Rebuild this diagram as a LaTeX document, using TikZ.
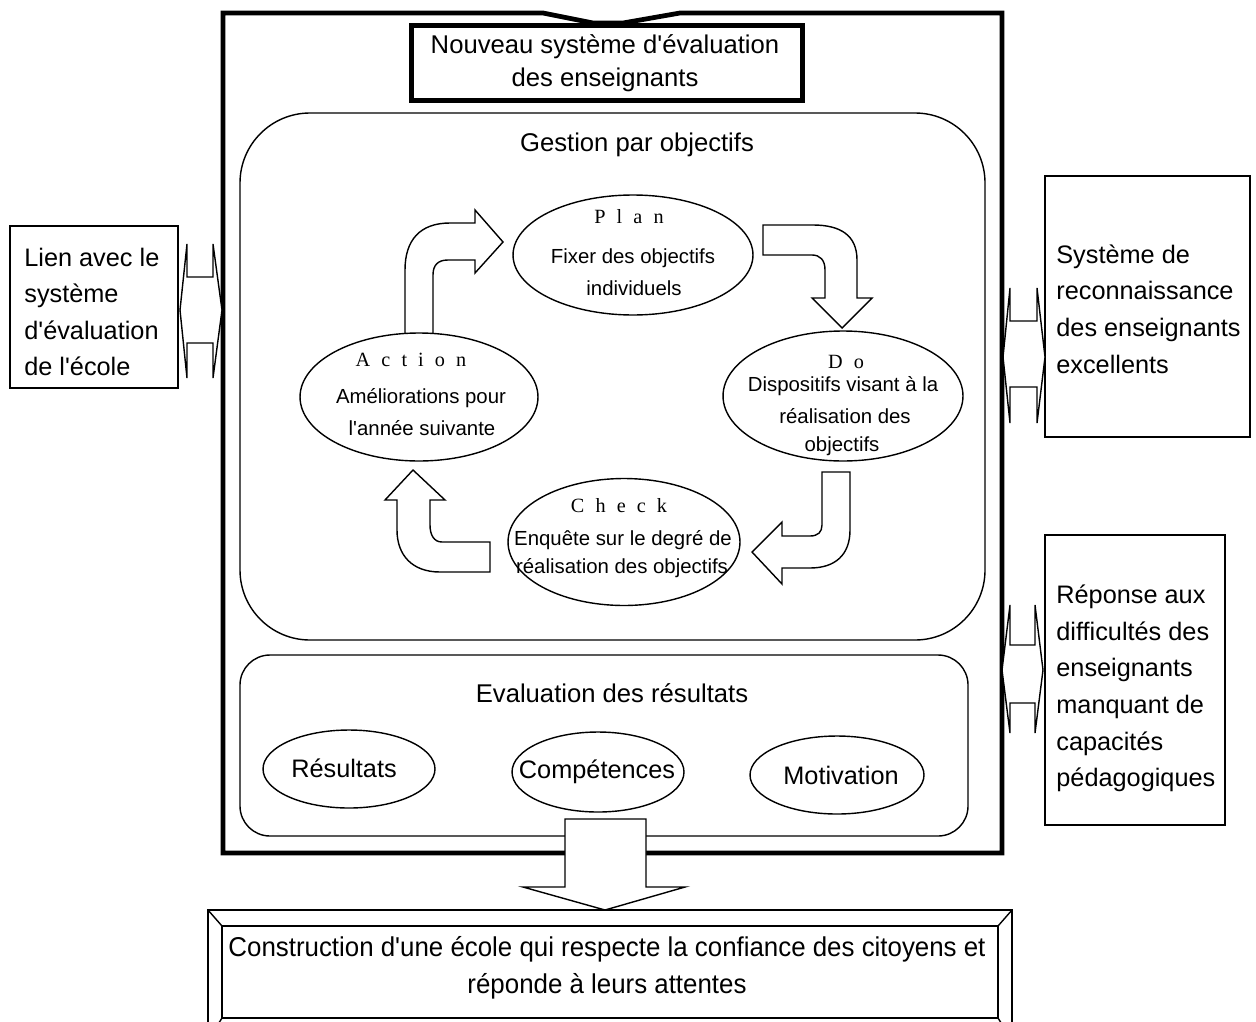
\documentclass[tikz,border=0pt]{standalone}
\usepackage{fontspec}
\setmainfont{Liberation Sans}
\newfontfamily\mainsans{Liberation Sans}
\newfontfamily\spacedfont[LetterSpace=55]{Liberation Serif}
\newfontfamily\narrowfont[FakeStretch=0.95]{Liberation Sans}
\usetikzlibrary{shapes.geometric}
\tikzset{
  frameline/.style={line width=2.7pt},
  thinline/.style={line width=0.8pt},
  ell/.style={draw, ellipse, line width=0.8pt, fill=white, inner sep=0pt},
  blockarrow/.style={draw, line width=0.8pt, fill=white, line join=miter},
  big/.style={font=\mainsans\fontsize{14.4}{20.8}\selectfont},
  small/.style={font=\mainsans\fontsize{11.6}{17}\selectfont},
  spaced/.style={font=\spacedfont\fontsize{11.5}{14}\selectfont},
  txt/.style={inner sep=0pt},
}
\begin{document}
\mainsans
\begin{tikzpicture}[x=0.02cm, y=-0.02cm]
\useasboundingbox (0,0) rectangle (1256,1021);
\clip (0,0) rectangle (1256,1021);
\fill[white] (0,0) rectangle (1256,1021);

% outer frame
\draw[frameline, line join=miter] (223,13) -- (543,13) -- (593,23) -- (623,23) -- (680,13) -- (1002,13) -- (1002,853) -- (223,853) -- cycle;

% title box
\node[draw, line width=2.7pt, fill=white, minimum width=7.83cm, minimum height=1.49cm, inner sep=0pt] (title) at (607,63) {};
\node[txt, align=center, font=\mainsans\fontsize{14.6}{18.7}\selectfont] (titletxt) at (605,63) {Nouveau système d'évaluation\\des enseignants};

% Gestion par objectifs box
\draw[thinline, rounded corners=1.4cm] (240,113) rectangle (985,640);
\node[txt, font=\mainsans\fontsize{14.6}{18}\selectfont] (gestion) at (637,145) {Gestion par objectifs};

% Evaluation box
\draw[thinline, rounded corners=0.6cm] (240,655) rectangle (968,836);
\node[txt, font=\mainsans\fontsize{14.6}{18}\selectfont] (evaltxt) at (612,693) {Evaluation des résultats};

% block arrows of the cycle
\draw[blockarrow] (405,335) -- (405,270) .. controls (405,240) and (420,223) .. (450,223) -- (475,223) -- (475,210) -- (503,242) -- (475,273) -- (475,260) -- (448,260) .. controls (438,260) and (433,265) .. (433,275) -- (433,335) -- cycle;
\draw[blockarrow] (763,225) -- (813,225) .. controls (840,225) and (857,235) .. (857,260) -- (857,298) -- (872,298) -- (842,328) -- (812,298) -- (825,298) -- (825,270) .. controls (825,260) and (820,255) .. (812,255) -- (763,255) -- cycle;
\draw[blockarrow] (850,472) -- (850,530) .. controls (850,555) and (835,568) .. (810,568) -- (782,568) -- (782,584) -- (752,552) -- (782,522) -- (782,536) -- (810,536) .. controls (818,536) and (822,532) .. (822,525) -- (822,472) -- cycle;
\draw[blockarrow] (490,542) -- (442,542) .. controls (434,542) and (430,535) .. (430,525) -- (430,500) -- (445,500) -- (413,470) -- (385,500) -- (397,500) -- (397,530) .. controls (397,555) and (412,572) .. (440,572) -- (490,572) -- cycle;

% cycle ellipses
\node[ell, minimum width=4.8cm, minimum height=2.4cm] (plan) at (633,255) {};
\node[ell, minimum width=4.8cm, minimum height=2.6cm] (do) at (843,396) {};
\node[ell, minimum width=4.64cm, minimum height=2.54cm] (check) at (624,542) {};
\node[ell, minimum width=4.76cm, minimum height=2.56cm] (action) at (419,397) {};

\node[txt, spaced] (plant) at (629,217) {Plan};
\node[txt, small] (plan1) at (633,258) {Fixer des objectifs};
\node[txt, small] (plan2) at (634,288) {individuels};

\node[txt, spaced] (dot) at (846,362) {Do};
\node[txt, small] (do1) at (843,386) {Dispositifs visant à la};
\node[txt, small] (do2) at (845,416) {réalisation des};
\node[txt, small] (do3) at (842,446) {objectifs};

\node[txt, spaced] (checkt) at (619,506) {Check};
\node[txt, small] (check1) at (623,540) {Enquête sur le degré de};
\node[txt, small] (check2) at (622,568) {réalisation des objectifs};

\node[txt, spaced] (actiont) at (411,360) {Action};
\node[txt, small] (action1) at (421,398) {Améliorations pour};
\node[txt, small] (action2) at (422,428) {l'année suivante};

% evaluation ellipses
\node[ell, minimum width=3.44cm, minimum height=1.56cm] (res) at (349,769) {};
\node[txt, big] (restxt) at (344,768) {Résultats};
\node[ell, minimum width=3.44cm, minimum height=1.6cm] (comp) at (598,772) {};
\node[txt, big] (comptxt) at (597,772) {Compétences};
\node[ell, minimum width=3.48cm, minimum height=1.56cm] (moti) at (837,775) {};
\node[txt, big] (motitxt) at (841,775) {Motivation};

% side boxes
\node[draw, thinline, minimum width=3.36cm, minimum height=3.24cm, inner sep=0pt] (left) at (94,307) {};
\node[txt, big, anchor=west, align=left] (lefttxt) at (24,312) {Lien avec le\\système\\d'évaluation\\de l'école};

\node[draw, thinline, minimum width=4.1cm, minimum height=5.22cm, inner sep=0pt] (right1) at (1147.5,306.5) {};
\node[txt, big, anchor=west, align=left] (right1txt) at (1056,309) {Système de\\reconnaissance\\des enseignants\\excellents};

\node[draw, thinline, minimum width=3.6cm, minimum height=5.8cm, inner sep=0pt] (right2) at (1135,680) {};
\node[txt, big, anchor=west, align=left] (right2txt) at (1056,688.5) {Réponse aux\\difficultés des\\enseignants\\manquant de\\capacités\\pédagogiques};

% double arrows
\draw[blockarrow] (180,310) -- (187,244) -- (187,277) -- (213,277) -- (213,244) -- (222,310) -- (213,378) -- (213,343) -- (187,343) -- (187,378) -- cycle;
\draw[blockarrow] (1003,357) -- (1010,288) -- (1010,321) -- (1037,321) -- (1037,288) -- (1045,357) -- (1037,423) -- (1037,387) -- (1010,387) -- (1010,423) -- cycle;
\draw[blockarrow] (1002,670) -- (1010,605) -- (1010,645) -- (1035,645) -- (1035,605) -- (1043,670) -- (1035,733) -- (1035,703) -- (1010,703) -- (1010,733) -- cycle;

% bottom box (bevelled)
\coordinate (bo1) at (208,910);
\coordinate (bo2) at (1012,910);
\coordinate (bo3) at (1012,1040);
\coordinate (bo4) at (208,1040);
\coordinate (bi1) at (222,926);
\coordinate (bi2) at (998,926);
\coordinate (bi3) at (998,1018);
\coordinate (bi4) at (222,1018);
\draw[thinline, fill=white] (bo1) -- (bo2) -- (bo3) -- (bo4) -- cycle;
\draw[thinline] (bi1) -- (bi2) -- (bi3) -- (bi4) -- cycle;
\draw[thinline] (bo1) -- (bi1) (bo2) -- (bi2) (bo3) -- (bi3) (bo4) -- (bi4);
\node[txt, align=center, font=\narrowfont\fontsize{15.5}{21}\selectfont] (bottomtxt) at (607,968) {Construction d'une école qui respecte la confiance des citoyens et\\réponde à leurs attentes};

% big down arrow
\draw[blockarrow] (565,819) -- (565,887) -- (523,887) -- (605,910) -- (685,887) -- (646,887) -- (646,819) -- cycle;
\end{tikzpicture}
\end{document}
